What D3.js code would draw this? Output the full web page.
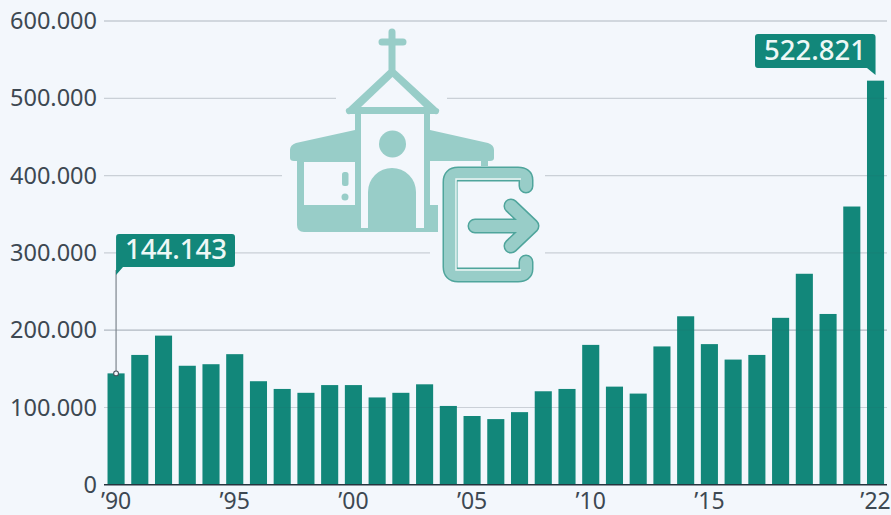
<!DOCTYPE html>
<html><head><meta charset="utf-8">
<script src="https://cdn.jsdelivr.net/npm/d3@7"></script>
<style>
html,body{margin:0;padding:0;background:#f3f7fc;overflow:hidden}
text{font-family:"Noto Sans","Open Sans",sans-serif}
</style></head><body>
<svg id="c" width="891" height="515"></svg>
<script>
const years=['90','91','92','93','94','95','96','97','98','99','00','01','02','03','04','05','06','07','08','09','10','11','12','13','14','15','16','17','18','19','20','21','22'];
const values=[144143,168000,193000,154000,156000,169000,134000,124000,119000,129000,129000,113000,119000,130000,102000,89000,85000,94000,121000,124000,181000,127000,118000,179000,218000,182000,162000,168000,216000,273000,221000,360000,522821];
const yTicks=[0,100000,200000,300000,400000,500000,600000];
const xTickLabels=['90','95','00','05','10','15','22'];
const callouts=[{year:'90',text:'144.143'},{year:'22',text:'522.821'}];

const TEAL='#12877a',INK='#3d4852',ICON='#98cdc8';
const svg=d3.select('#c');
const x=d3.scaleBand().domain(years).range([104.2,887.4]).paddingInner(0.28).paddingOuter(0.14);
const y=d3.scaleLinear().domain([0,600000]).range([484.8,21]);
const fmt=d=>d3.format(',')(d).replace(/,/g,'.');

// gridlines under the bars
svg.append('g').selectAll('line').data(yTicks.filter(d=>d>0)).join('line')
  .attr('x1',104).attr('x2',887).attr('y1',d=>y(d)).attr('y2',d=>y(d))
  .attr('stroke','#3c4a5a').attr('stroke-opacity',d=>(d===200000||d===600000)?0.3:0.16).attr('stroke-width',1.2);

// bars
svg.append('g').selectAll('rect').data(values).join('rect')
  .attr('x',(d,i)=>x(years[i])).attr('width',x.bandwidth())
  .attr('y',d=>y(d)).attr('height',d=>y(0)-y(d)).attr('fill',TEAL);

// faint trace of the gridlines across the bars
svg.append('g').selectAll('line').data(yTicks.filter(d=>d>0)).join('line')
  .attr('x1',104).attr('x2',887).attr('y1',d=>y(d)).attr('y2',d=>y(d))
  .attr('stroke','#3c4a5a').attr('stroke-opacity',0.07).attr('stroke-width',1.2);

// axes
const yAxis=svg.append('g').attr('transform','translate(104,0)')
  .call(d3.axisLeft(y).tickValues(yTicks).tickFormat(fmt).tickSize(0).tickPadding(7));
yAxis.select('.domain').remove();
yAxis.selectAll('text').attr('fill',INK).style('font-size','23.5px');
svg.append('line').attr('x1',104).attr('x2',887).attr('y1',y(0)).attr('y2',y(0)).attr('stroke','#26343e').attr('stroke-width',1.4);

const xAxis=svg.append('g').attr('transform',`translate(0,${y(0)})`)
  .call(d3.axisBottom(x).tickValues(xTickLabels).tickFormat(d=>'\u2019'+d).tickSize(0).tickPadding(8));
xAxis.select('.domain').remove();
xAxis.selectAll('text').attr('fill',INK).style('font-size','23px');

// icon: gaps in the gridlines
const icon=svg.append('g');
[[336,90,111,16],[282,167,263,16],[430,245,115,16]].forEach(r=>icon.append('rect')
  .attr('x',r[0]).attr('y',r[1]).attr('width',r[2]).attr('height',r[3]).attr('fill','#f3f7fc'));
// church
icon.append('path').attr('fill',ICON).attr('d',
 'M388.5 32a3.5 3.5 0 0 1 7 0V38.5H403a3.5 3.5 0 0 1 0 7H395.5V70L437 108a3 3 0 0 1-2 6H430V130L488 143Q494 145 494 150V158Q494 161 490 161H430V205H452V232H304Q297 232 297 225V161H294Q290 161 290 158V150Q290 145 296 143L355 130V114H350a3 3 0 0 1-2-6L388.5 70V45.5H382a3.5 3.5 0 0 1 0-7H388.5Z');
icon.append('path').attr('fill','#f3f7fc').attr('d','M392.5 77L424 107H361Z');
icon.append('rect').attr('x',361).attr('y',114).attr('width',63).attr('height',114).attr('fill','#f3f7fc');
icon.append('rect').attr('x',304).attr('y',162).attr('width',51).attr('height',43).attr('fill','#f3f7fc');
icon.append('rect').attr('x',430).attr('y',162).attr('width',60).attr('height',43).attr('fill','#f3f7fc');
icon.append('rect').attr('x',481).attr('y',160).attr('width',7).attr('height',6).attr('fill',ICON);
icon.append('circle').attr('cx',392.5).attr('cy',144).attr('r',13.5).attr('fill',ICON);
icon.append('path').attr('fill',ICON).attr('d','M368 228V192a24 24 0 0 1 48 0V228Z');
icon.append('rect').attr('x',342).attr('y',172).attr('width',6.5).attr('height',14).attr('rx',2.5).attr('fill',ICON);
icon.append('circle').attr('cx',345).attr('cy',197).attr('r',3.5).attr('fill',ICON);
// exit sign
const door='M526 186V180Q526 174 518 174H458Q450 174 450 182V267Q450 275 458 275H518Q526 275 526 269V262';
const arrow='M475 226H526M511 206L532 226L511 246';
icon.append('rect').attr('x',438).attr('y',200).attr('width',20).attr('height',70).attr('fill','#f3f7fc');
[[door,15,'#4fa59c'],[arrow,15,'#4fa59c'],[door,12,ICON],[arrow,12,ICON]].forEach(s=>icon.append('path')
  .attr('d',s[0]).attr('fill','none').attr('stroke',s[2]).attr('stroke-width',s[1])
  .attr('stroke-linecap','round').attr('stroke-linejoin','round'));
icon.append('path').attr('d','M521 179H456V270H521').attr('fill','none').attr('stroke','#eaf5f4').attr('stroke-width',1.5);

// callouts
const cx=i=>x(years[i])+x.bandwidth()/2;
const i0=years.indexOf(callouts[0].year),i1=years.indexOf(callouts[1].year);
svg.append('line').attr('x1',cx(i0)).attr('x2',cx(i0)).attr('y1',270).attr('y2',y(values[i0]))
  .attr('stroke','#7d868d').attr('stroke-width',1.2);
svg.append('circle').attr('cx',cx(i0)).attr('cy',y(values[i0])).attr('r',2.4)
  .attr('fill','#f3f7fc').attr('stroke','#46525c').attr('stroke-width',1.1);
svg.append('path').attr('fill',TEAL).attr('d',`M${cx(i0)} 237a3 3 0 0 1 3-3H232a3 3 0 0 1 3 3V264a3 3 0 0 1-3 3H123L${cx(i0)} 275Z`);
svg.append('text').attr('x',176).attr('y',258.5).attr('text-anchor','middle').attr('fill','#eef8f6').style('font-size','27.5px').style('font-weight',500).text(callouts[0].text);
svg.append('path').attr('fill',TEAL).attr('d',`M${cx(i1)} 37a3 3 0 0 0-3-3H758a3 3 0 0 0-3 3V65a3 3 0 0 0 3 3H867L${cx(i1)} 75Z`);
svg.append('text').attr('x',815).attr('y',59.5).attr('text-anchor','middle').attr('fill','#eef8f6').style('font-size','27.5px').style('font-weight',500).text(callouts[1].text);
</script></body></html>
